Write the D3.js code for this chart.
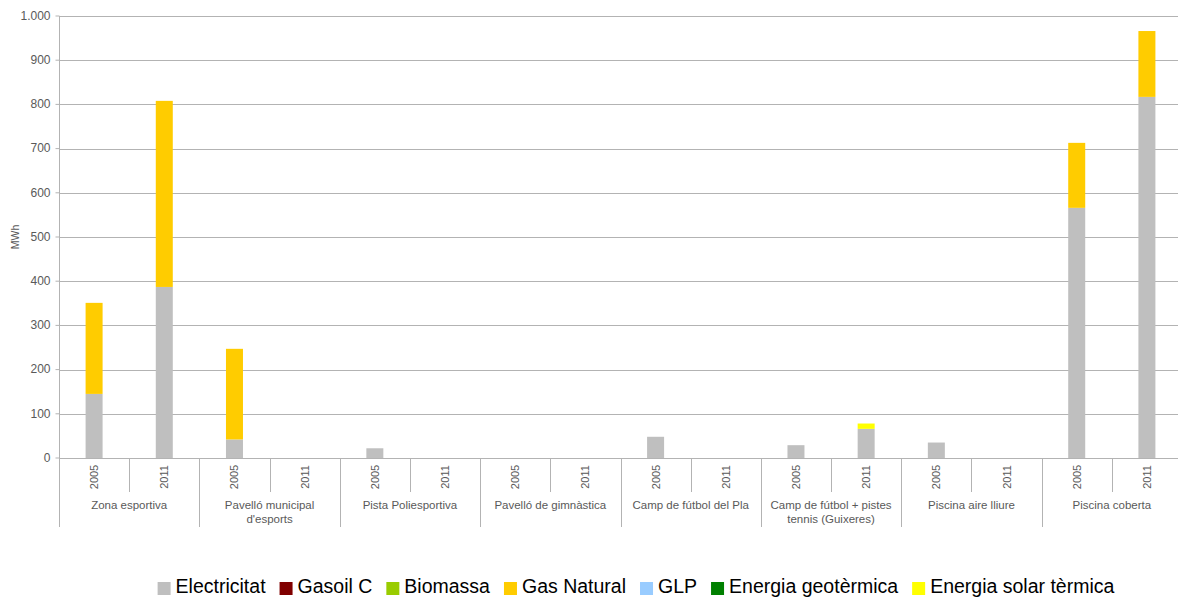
<!DOCTYPE html>
<html><head><meta charset="utf-8">
<script src="https://cdn.jsdelivr.net/npm/d3@7"></script>
<style>body{margin:0;background:#fff}svg{display:block;font-family:"Liberation Sans",Arial,sans-serif}</style>
</head><body><svg id="c" width="1178" height="597"></svg>
<script>
const groups = ["Zona esportiva","Pavelló municipal d'esports","Pista Poliesportiva","Pavelló de gimnàstica","Camp de fútbol del Pla","Camp de fútbol + pistes tennis (Guixeres)","Piscina aire lliure","Piscina coberta"];
const groupLines = [["Zona esportiva"],["Pavelló municipal","d'esports"],["Pista Poliesportiva"],["Pavelló de gimnàstica"],["Camp de fútbol del Pla"],["Camp de fútbol + pistes","tennis (Guixeres)"],["Piscina aire lliure"],["Piscina coberta"]];
const years = ["2005","2011"];
const seriesNames = ["Electricitat","Gasoil C","Biomassa","Gas Natural","GLP","Energia geotèrmica","Energia solar tèrmica"];
const seriesColors = ["#BFBFBF","#800000","#99CC00","#FFCC00","#99CCFF","#008000","#FFFF00"];
// values per bar: order = group x year (2005, 2011)
const electricitat = [145,387, 42,0, 22,0, 0,0, 48,0, 29,66, 35,0, 566,817];
const gasoilC      = [0,0, 0,0, 0,0, 0,0, 0,0, 0,0, 0,0, 0,0];
const biomassa     = [0,0, 0,0, 0,0, 0,0, 0,0, 0,0, 0,0, 0,0];
const gasNatural   = [206,421, 205,0, 0,0, 0,0, 0,0, 0,0, 0,0, 147,149];
const glp          = [0,0, 0,0, 0,0, 0,0, 0,0, 0,0, 0,0, 0,0];
const geotermica   = [0,0, 0,0, 0,0, 0,0, 0,0, 0,0, 0,0, 0,0];
const solarTermica = [0,0, 0,0, 0,0, 0,0, 0,0, 0,12, 0,0, 0,0];
const yTicks = [0,100,200,300,400,500,600,700,800,900,1000];

const seriesValues = [electricitat,gasoilC,biomassa,gasNatural,glp,geotermica,solarTermica];
const rows = [];
groups.forEach((g,gi)=>years.forEach((yr,yi)=>{
  const r = {key:gi+"|"+yr, group:g, gi, year:yr};
  seriesNames.forEach((s,si)=>r[s]=seriesValues[si][gi*2+yi]);
  rows.push(r);
}));

const svg = d3.select("#c");
const L=59, R=1182, T=16, B=458;
const textCol="#595959", gridCol="#b3b3b3";
const y = d3.scaleLinear().domain([0,1000]).range([B,T]);
const xg = d3.scaleBand().domain(d3.range(groups.length)).range([L,R]).padding(0);
const xy = d3.scaleBand().domain(years).range([0,xg.bandwidth()]).paddingInner(0).paddingOuter(0);
const barW = 17;
const loc = d3.formatLocale({decimal:",",thousands:".",grouping:[3],currency:["","€"]});
const fmt = loc.format(",d");

// grid
svg.append("g").selectAll("line").data(yTicks.filter(d=>d>0)).join("line")
  .attr("x1",L).attr("x2",R).attr("y1",d=>Math.round(y(d))+0.5).attr("y2",d=>Math.round(y(d))+0.5)
  .attr("stroke",gridCol).attr("stroke-width",1);

// y axis
const ya = svg.append("g").attr("transform",`translate(${L+0.5},0)`)
  .call(d3.axisLeft(y).tickValues(yTicks).tickFormat(fmt).tickSize(4).tickPadding(5).offset(0));
ya.select(".domain").attr("stroke",gridCol).attr("d",`M0,${T}V${B}`);
ya.selectAll(".tick line").attr("stroke",gridCol);
ya.selectAll(".tick text").attr("fill",textCol).style("font-size","12px").style("font-family","Liberation Sans, Arial, sans-serif");

svg.append("text").attr("transform",`translate(19,${(T+B)/2}) rotate(-90)`)
  .attr("text-anchor","middle").attr("fill",textCol).style("font-size","10.5px").text("MWh");

// bars
const stack = d3.stack().keys(seriesNames)(rows);
svg.append("g").selectAll("g").data(stack).join("g").attr("fill",(d,i)=>seriesColors[i])
  .selectAll("rect").data(d=>d).join("rect")
  .attr("x",d=>xg(d.data.gi)+xy(d.data.year)+xy.bandwidth()/2-barW/2)
  .attr("width",barW)
  .attr("y",d=>y(d[1])).attr("height",d=>Math.max(0,y(d[0])-y(d[1])));

// baseline
svg.append("line").attr("x1",L).attr("x2",R).attr("y1",B+0.5).attr("y2",B+0.5).attr("stroke",gridCol);

// x axis category dividers
const xa = svg.append("g");
groups.forEach((g,gi)=>{
  const x0 = Math.round(xg(gi))+0.5;
  xa.append("line").attr("x1",x0).attr("x2",x0).attr("y1",B).attr("y2",527).attr("stroke",gridCol);
  const xm = Math.round(xg(gi)+xy("2011"))+0.5;
  xa.append("line").attr("x1",xm).attr("x2",xm).attr("y1",B).attr("y2",492).attr("stroke",gridCol);
  years.forEach(yr=>{
    const cx = xg(gi)+xy(yr)+xy.bandwidth()/2;
    xa.append("text").attr("transform",`translate(${cx+4},477) rotate(-90)`)
      .attr("text-anchor","middle").attr("fill",textCol).style("font-size","11px").text(yr);
  });
  const cx = xg(gi)+xg.bandwidth()/2;
  groupLines[gi].forEach((ln,li)=>{
    xa.append("text").attr("x",cx).attr("y",509+li*13.5).attr("text-anchor","middle")
      .attr("fill",textCol).style("font-size","11.5px").text(ln);
  });
});
const xr = Math.round(R)-0.5;
xa.append("line").attr("x1",xr).attr("x2",xr).attr("y1",B).attr("y2",527).attr("stroke",gridCol);

// legend
const lg = svg.append("g");
const items = seriesNames.map((s,i)=>{
  const g = lg.append("g");
  g.append("rect").attr("width",13).attr("height",13).attr("y",-11).attr("fill",seriesColors[i]);
  const t = g.append("text").attr("x",18).attr("y",0).attr("fill","#000").style("font-size","19.5px").text(s);
  return {g, w:18+t.node().getComputedTextLength()};
});
const gap = 14;
const total = d3.sum(items,d=>d.w)+gap*(items.length-1);
let cur = 636 - total/2;
items.forEach(it=>{ it.g.attr("transform",`translate(${cur},593)`); cur += it.w+gap; });
</script></body></html>
